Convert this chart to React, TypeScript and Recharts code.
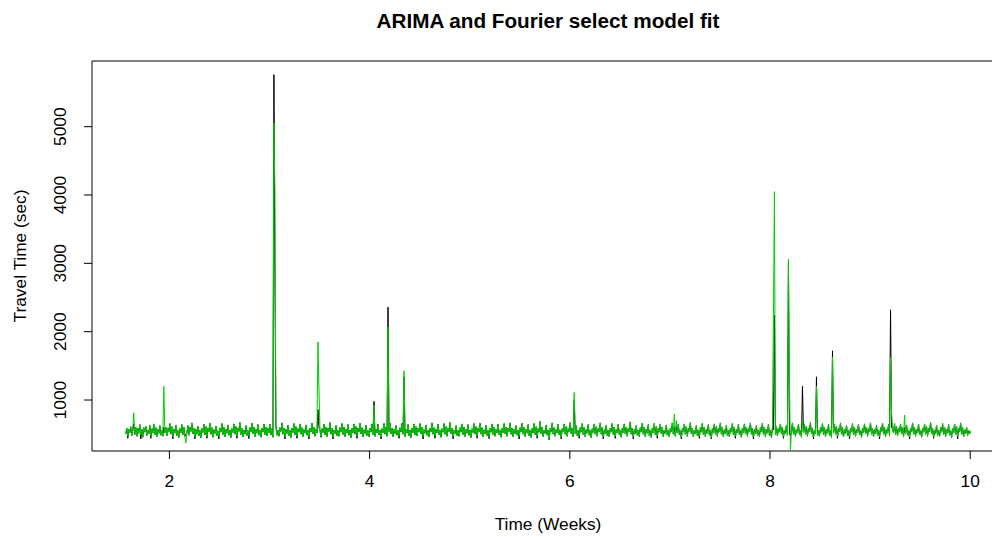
import React from 'react';
import { LineChart, Line, XAxis, YAxis, ReferenceArea } from 'recharts';

// Time grid (weeks): regular sampling
const startWeek = 1.564;
const stepWeeks = 0.01;

// Observed travel time (sec) – black
const actualValues: number[] = [
  505, 590, 440, 575, 520, 610, 480, 560, 650, 495, 600, 470, 585, 515, 640, 430, 570, 455, 595, 530,
  615, 480, 560, 505, 630, 440, 580, 520, 650, 490, 595, 460, 570, 510, 625, 485, 555, 470, 600, 520,
  600, 475, 590, 530, 655, 500, 610, 430, 575, 515, 630, 480, 560, 450, 585, 520, 640, 495, 605, 470,
  500, 510, 625, 485, 600, 540, 665, 505, 590, 430, 570, 500, 615, 475, 555, 445, 580, 525, 645, 490,
  610, 440, 585, 535, 660, 500, 595, 455, 565, 510, 620, 480, 550, 430, 590, 530, 655, 495, 600, 460,
  575, 515, 635, 485, 560, 450, 580, 525, 650, 500, 610, 440, 590, 540, 670, 495, 585, 460, 560, 505,
  625, 480, 555, 435, 595, 535, 660, 505, 600, 465, 570, 515, 640, 485, 560, 455, 585, 530, 650, 495,
  605, 475, 590, 520, 645, 490, 580, 455, 5760, 2800, 620, 485, 560, 470, 595, 540, 665, 500, 590, 430,
  570, 510, 630, 480, 555, 450, 585, 525, 655, 495, 610, 440, 580, 530, 650, 500, 595, 465, 565, 515,
  635, 485, 560, 430, 590, 535, 660, 505, 600, 470, 575, 520, 860, 600, 565, 455, 580, 525, 645, 490,
  605, 465, 585, 540, 670, 500, 590, 430, 560, 510, 625, 480, 555, 470, 595, 530, 655, 495, 600, 465,
  570, 515, 640, 485, 560, 450, 585, 520, 650, 500, 610, 440, 590, 535, 660, 505, 595, 460, 565, 510,
  630, 480, 555, 465, 590, 530, 650, 495, 980, 470, 575, 520, 645, 490, 560, 430, 580, 525, 655, 500,
  605, 470, 2360, 540, 665, 505, 590, 460, 570, 510, 625, 485, 555, 440, 595, 535, 660, 500, 1340, 465,
  575, 515, 640, 480, 560, 450, 585, 525, 650, 495, 610, 475, 590, 530, 655, 505, 600, 430, 565, 515,
  635, 485, 555, 460, 590, 535, 665, 500, 595, 440, 575, 520, 645, 490, 560, 455, 580, 530, 655, 500,
  610, 470, 585, 540, 670, 505, 590, 430, 560, 510, 625, 480, 555, 470, 595, 530, 650, 495, 605, 465,
  570, 515, 640, 485, 560, 450, 580, 525, 655, 500, 610, 440, 590, 535, 660, 500, 595, 460, 565, 510,
  630, 480, 555, 435, 590, 530, 650, 495, 600, 470, 575, 520, 645, 490, 560, 455, 585, 525, 655, 505,
  605, 470, 590, 540, 665, 500, 590, 460, 570, 510, 625, 485, 555, 430, 595, 535, 660, 500, 600, 465,
  575, 515, 640, 480, 555, 450, 585, 520, 655, 495, 610, 440, 590, 530, 690, 505, 600, 465, 560, 510,
  635, 485, 560, 420, 590, 535, 665, 500, 595, 470, 575, 520, 645, 490, 560, 430, 580, 530, 650, 500,
  610, 470, 585, 540, 670, 505, 590, 460, 1000, 510, 625, 480, 555, 440, 595, 530, 655, 495, 605, 465,
  570, 515, 640, 485, 560, 450, 580, 525, 650, 500, 610, 470, 590, 535, 665, 500, 595, 430, 565, 510,
  630, 480, 555, 465, 590, 530, 655, 495, 600, 440, 575, 520, 645, 490, 560, 455, 585, 525, 650, 505,
  605, 470, 590, 540, 680, 500, 590, 430, 570, 510, 625, 485, 555, 465, 595, 535, 660, 500, 600, 465,
  575, 515, 640, 480, 555, 450, 585, 520, 655, 495, 610, 440, 590, 530, 650, 505, 600, 465, 560, 510,
  635, 485, 560, 460, 590, 535, 665, 500, 600, 470, 620, 520, 645, 490, 560, 430, 580, 530, 650, 500,
  610, 470, 585, 540, 670, 505, 590, 460, 560, 510, 625, 480, 555, 440, 595, 530, 655, 495, 605, 465,
  570, 515, 640, 485, 560, 430, 580, 525, 650, 500, 610, 470, 590, 535, 665, 500, 595, 460, 565, 510,
  630, 480, 555, 465, 590, 530, 655, 495, 600, 440, 575, 520, 645, 490, 560, 455, 585, 525, 650, 505,
  605, 470, 590, 540, 665, 500, 590, 430, 570, 510, 625, 485, 555, 465, 595, 535, 660, 500, 600, 465,
  575, 515, 640, 480, 555, 450, 585, 560, 2240, 495, 610, 475, 590, 530, 650, 505, 600, 440, 560, 510,
  635, 485, 3000, 500, 480, 535, 665, 500, 595, 470, 575, 520, 645, 490, 560, 455, 1200, 530, 650, 500,
  610, 470, 585, 540, 670, 505, 590, 430, 560, 510, 1340, 480, 555, 470, 595, 530, 655, 495, 605, 465,
  570, 515, 640, 485, 560, 450, 1720, 525, 650, 500, 610, 440, 590, 535, 665, 500, 595, 460, 565, 510,
  630, 480, 555, 435, 590, 530, 655, 495, 600, 470, 575, 520, 645, 490, 560, 455, 585, 525, 650, 505,
  605, 470, 590, 540, 665, 500, 590, 460, 570, 510, 625, 485, 555, 430, 595, 535, 660, 500, 600, 465,
  575, 515, 640, 480, 2320, 600, 585, 520, 655, 495, 610, 475, 590, 530, 650, 505, 600, 465, 600, 510,
  635, 485, 560, 430, 590, 535, 665, 500, 595, 470, 575, 520, 645, 490, 560, 455, 580, 530, 650, 500,
  610, 470, 585, 540, 670, 505, 590, 440, 560, 510, 625, 480, 555, 470, 595, 530, 655, 495, 605, 465,
  570, 515, 640, 485, 560, 450, 580, 525, 650, 500, 610, 430, 590, 535, 665, 500, 595, 460, 565, 510,
  600, 480, 560, 505, 540,
];

// ARIMA + Fourier fitted values (sec) – green
const fittedValues: number[] = [
  505, 590, 470, 575, 520, 610, 480, 560, 810, 495, 600, 470, 585, 515, 640, 490, 570, 455, 595, 530,
  615, 480, 560, 505, 630, 470, 580, 520, 650, 490, 595, 460, 570, 510, 625, 485, 555, 470, 1200, 520,
  600, 475, 590, 530, 655, 500, 610, 465, 575, 515, 630, 480, 560, 450, 585, 520, 640, 495, 605, 470,
  370, 510, 625, 485, 600, 540, 665, 505, 590, 460, 570, 500, 615, 475, 555, 445, 580, 525, 645, 490,
  610, 470, 585, 535, 660, 500, 595, 455, 565, 510, 620, 480, 550, 465, 590, 530, 655, 495, 600, 460,
  575, 515, 635, 485, 560, 450, 580, 525, 650, 500, 610, 470, 590, 540, 670, 495, 585, 460, 560, 505,
  625, 480, 555, 470, 595, 535, 660, 505, 600, 465, 570, 515, 640, 485, 560, 455, 585, 530, 650, 495,
  605, 475, 590, 520, 645, 490, 580, 455, 5050, 4070, 620, 485, 560, 470, 595, 540, 665, 500, 590, 460,
  570, 510, 630, 480, 555, 450, 585, 525, 655, 495, 610, 470, 580, 530, 650, 500, 595, 465, 565, 515,
  635, 485, 560, 460, 590, 535, 660, 505, 600, 470, 575, 520, 1850, 1150, 565, 455, 580, 525, 645, 490,
  605, 465, 585, 540, 670, 500, 590, 460, 560, 510, 625, 480, 555, 470, 595, 530, 655, 495, 600, 465,
  570, 515, 640, 485, 560, 450, 585, 520, 650, 500, 610, 475, 590, 535, 660, 505, 595, 460, 565, 510,
  630, 480, 555, 465, 590, 530, 650, 495, 920, 470, 575, 520, 645, 490, 560, 455, 580, 525, 655, 500,
  605, 470, 2070, 540, 665, 505, 590, 460, 570, 510, 625, 485, 555, 470, 595, 535, 660, 500, 1430, 465,
  575, 515, 640, 480, 560, 450, 585, 525, 650, 495, 610, 475, 590, 530, 655, 505, 600, 465, 565, 515,
  635, 485, 555, 460, 590, 535, 665, 500, 595, 470, 575, 520, 645, 490, 560, 455, 580, 530, 655, 500,
  610, 470, 585, 540, 670, 505, 590, 460, 560, 510, 625, 480, 555, 470, 595, 530, 650, 495, 605, 465,
  570, 515, 640, 485, 560, 450, 580, 525, 655, 500, 610, 470, 590, 535, 660, 500, 595, 460, 565, 510,
  630, 480, 555, 465, 590, 530, 650, 495, 600, 470, 575, 520, 645, 490, 560, 455, 585, 525, 655, 505,
  605, 470, 590, 540, 665, 500, 590, 460, 570, 510, 625, 485, 555, 465, 595, 535, 660, 500, 600, 465,
  575, 515, 640, 480, 555, 450, 585, 520, 655, 495, 610, 475, 590, 530, 690, 505, 600, 465, 560, 510,
  635, 485, 560, 420, 590, 535, 665, 500, 595, 470, 575, 520, 645, 490, 560, 455, 580, 530, 650, 500,
  610, 470, 585, 540, 670, 505, 590, 460, 1110, 510, 625, 480, 555, 470, 595, 530, 655, 495, 605, 465,
  570, 515, 640, 485, 560, 450, 580, 525, 650, 500, 610, 470, 590, 535, 665, 500, 595, 460, 565, 510,
  630, 480, 555, 465, 590, 530, 655, 495, 600, 470, 575, 520, 645, 490, 560, 455, 585, 525, 650, 505,
  605, 470, 590, 540, 680, 500, 590, 460, 570, 510, 625, 485, 555, 465, 595, 535, 660, 500, 600, 465,
  575, 515, 640, 480, 555, 450, 585, 520, 655, 495, 610, 475, 590, 530, 650, 505, 600, 465, 560, 510,
  635, 485, 560, 460, 590, 535, 665, 500, 790, 470, 700, 520, 645, 490, 560, 455, 580, 530, 650, 500,
  610, 470, 585, 540, 670, 505, 590, 460, 560, 510, 625, 480, 555, 470, 595, 530, 655, 495, 605, 465,
  570, 515, 640, 485, 560, 450, 580, 525, 650, 500, 610, 470, 590, 535, 665, 500, 595, 460, 565, 510,
  630, 480, 555, 465, 590, 530, 655, 495, 600, 470, 575, 520, 645, 490, 560, 455, 585, 525, 650, 505,
  605, 470, 590, 540, 665, 500, 590, 460, 570, 510, 625, 485, 555, 465, 595, 535, 660, 500, 600, 465,
  575, 515, 640, 480, 555, 450, 585, 2240, 4050, 495, 610, 475, 590, 530, 650, 505, 600, 465, 560, 510,
  635, 485, 3060, 1270, 270, 535, 665, 500, 595, 470, 575, 520, 645, 490, 560, 455, 700, 530, 650, 500,
  610, 470, 585, 540, 670, 505, 590, 460, 560, 510, 1200, 480, 555, 470, 595, 530, 655, 495, 605, 465,
  570, 515, 640, 485, 560, 450, 1630, 525, 650, 500, 610, 470, 590, 535, 665, 500, 595, 460, 565, 510,
  630, 480, 555, 465, 590, 530, 655, 495, 600, 470, 575, 520, 645, 490, 560, 455, 585, 525, 650, 505,
  605, 470, 590, 540, 665, 500, 590, 460, 570, 510, 625, 485, 555, 465, 595, 535, 660, 500, 600, 465,
  575, 515, 640, 480, 1630, 810, 585, 520, 655, 495, 610, 475, 590, 530, 650, 505, 600, 465, 780, 510,
  635, 485, 560, 460, 590, 535, 665, 500, 595, 470, 575, 520, 645, 490, 560, 455, 580, 530, 650, 500,
  610, 470, 585, 540, 670, 505, 590, 460, 560, 510, 625, 480, 555, 470, 595, 530, 655, 495, 605, 465,
  570, 515, 640, 485, 560, 450, 580, 525, 650, 500, 610, 470, 590, 535, 665, 500, 595, 460, 565, 510,
  600, 480, 560, 505, 540,
];

const xTicks = [2, 4, 6, 8, 10];
const yTicks = [1000, 2000, 3000, 4000, 5000];

const chartTitle = 'ARIMA and Fourier select model fit';
const xLabel = 'Time (Weeks)';
const yLabel = 'Travel Time (sec)';

const data = actualValues.map((a, i) => ({
  t: +(startWeek + i * stepWeeks).toFixed(4),
  actual: a,
  fitted: fittedValues[i],
}));

const X_DOMAIN: [number, number] = [1.2266, 10.3374];
const Y_DOMAIN: [number, number] = [254, 5961];
const FONT = '"Liberation Sans", Arial, Helvetica, sans-serif';

const XTick = (props: any) => {
  const { x, payload } = props;
  return (
    <text x={x} y={487} textAnchor="middle" fontSize={17.3} fontFamily={FONT} fill="#000">
      {payload.value}
    </text>
  );
};

const YTick = (props: any) => {
  const { y, payload } = props;
  return (
    <text
      x={66}
      y={y}
      textAnchor="middle"
      fontSize={17.3}
      fontFamily={FONT}
      fill="#000"
      transform={`rotate(-90, 66, ${y})`}
    >
      {payload.value}
    </text>
  );
};

export default function App() {
  return (
    <div
      style={{
        position: 'absolute',
        left: 0,
        top: 0,
        width: 992,
        height: 537,
        overflow: 'hidden',
        background: '#fff',
      }}
    >
      <LineChart
        width={1020}
        height={537}
        data={data}
        margin={{ top: 61, right: 16, bottom: 0, left: 0 }}
      >
        <XAxis
          dataKey="t"
          type="number"
          domain={X_DOMAIN}
          allowDataOverflow
          ticks={xTicks}
          tickSize={8}
          axisLine={false}
          tickLine={{ stroke: '#000', strokeWidth: 1 }}
          tick={<XTick />}
          height={86}
          interval={0}
        />
        <YAxis
          type="number"
          domain={Y_DOMAIN}
          allowDataOverflow
          ticks={yTicks}
          tickSize={8}
          axisLine={false}
          tickLine={{ stroke: '#000', strokeWidth: 1 }}
          tick={<YTick />}
          width={92}
          interval={0}
        />
        <ReferenceArea
          x1={X_DOMAIN[0]}
          x2={X_DOMAIN[1]}
          y1={Y_DOMAIN[0]}
          y2={Y_DOMAIN[1]}
          fill="none"
          stroke="#000"
          strokeWidth={1}
          ifOverflow="visible"
        />
        <Line
          type="linear"
          dataKey="actual"
          stroke="#000000"
          strokeWidth={1}
          dot={false}
          activeDot={false}
          isAnimationActive={false}
        />
        <Line
          type="linear"
          dataKey="fitted"
          stroke="#00CD00"
          strokeWidth={1}
          dot={false}
          activeDot={false}
          isAnimationActive={false}
        />
        <text x={548} y={27.5} textAnchor="middle" fontSize={20.7} fontWeight="bold" fontFamily={FONT} fill="#000">
          {chartTitle}
        </text>
        <text x={548} y={529.5} textAnchor="middle" fontSize={17.3} fontFamily={FONT} fill="#000">
          {xLabel}
        </text>
        <text
          x={26}
          y={256}
          textAnchor="middle"
          fontSize={17.3}
          fontFamily={FONT}
          fill="#000"
          transform="rotate(-90, 26, 256)"
        >
          {yLabel}
        </text>
      </LineChart>
    </div>
  );
}
